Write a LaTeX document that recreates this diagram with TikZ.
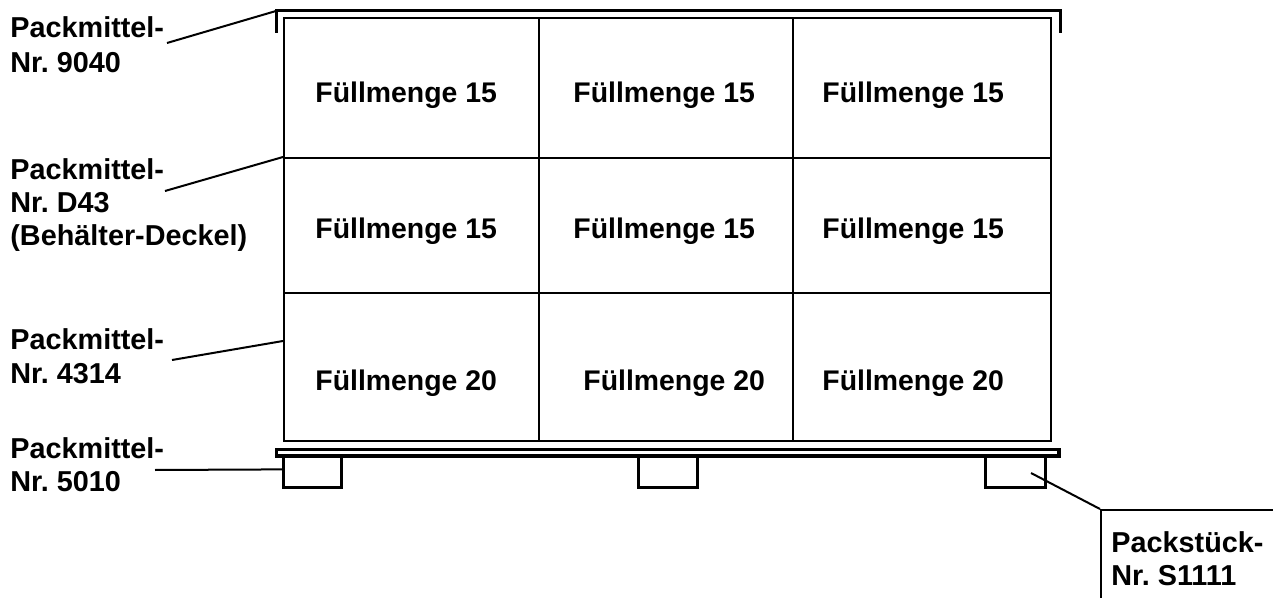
\documentclass[tikz,border=0pt]{standalone}
\usepackage{fontspec}
\setmainfont{Liberation Sans}
\frenchspacing
\begin{document}
\begin{tikzpicture}[x=0.5pt,y=-0.5pt,
  cell/.style={draw, line width=1.2pt, inner sep=0, anchor=north west},
  foot/.style={draw, line width=1.4pt, inner sep=0, anchor=north west, minimum height=18pt},
  fill text/.style={anchor=base west, inner sep=0, font=\fontsize{14.2}{17}\selectfont\bfseries},
  lab/.style={anchor=base west, inner sep=0, font=\fontsize{14.4}{17}\selectfont\bfseries},
  leader/.style={line width=1pt},
  bracket/.style={line width=1.5pt}]
\useasboundingbox (0,0) rectangle (1273,598);
\clip (0,0) rectangle (1273,598);

% grid of containers
\node[cell, minimum width=127.5pt, minimum height=70pt] (c11) at (283,17) {};
\node[cell, minimum width=127pt,   minimum height=70pt] (c12) at (538,17) {};
\node[cell, minimum width=129pt,   minimum height=70pt] (c13) at (792,17) {};
\node[cell, minimum width=127.5pt, minimum height=67.5pt] (c21) at (283,157) {};
\node[cell, minimum width=127pt,   minimum height=67.5pt] (c22) at (538,157) {};
\node[cell, minimum width=129pt,   minimum height=67.5pt] (c23) at (792,157) {};
\node[cell, minimum width=127.5pt, minimum height=74pt] (c31) at (283,292) {};
\node[cell, minimum width=127pt,   minimum height=74pt] (c32) at (538,292) {};
\node[cell, minimum width=129pt,   minimum height=74pt] (c33) at (792,292) {};

% fill texts
\node[fill text] (t11) at (315,103) {Füllmenge 15};
\node[fill text] (t12) at (573,103) {Füllmenge 15};
\node[fill text] (t13) at (822,103) {Füllmenge 15};
\node[fill text] (t21) at (315,239) {Füllmenge 15};
\node[fill text] (t22) at (573,239) {Füllmenge 15};
\node[fill text] (t23) at (822,239) {Füllmenge 15};
\node[fill text] (t31) at (315,390) {Füllmenge 20};
\node[fill text] (t32) at (583,390) {Füllmenge 20};
\node[fill text] (t33) at (822,390) {Füllmenge 20};

% cover (bracket)
\coordinate (brLb) at (276,33);
\coordinate (brL) at (276,11);
\coordinate (brR) at (1060,11);
\coordinate (brRb) at (1060,33);
\draw[bracket] (brLb) -- (brL) -- (brR) -- (brRb);

% pallet feet and deck
\node[foot, minimum width=29pt]   (f1) at (282,450) {};
\node[foot, minimum width=29.5pt] (f2) at (637,450) {};
\node[foot, minimum width=30pt]   (f3) at (984,450) {};
\node[draw, line width=1.6pt, fill=white, inner sep=0, anchor=north west,
      minimum width=391.4pt, minimum height=3.4pt] (deck) at (274.6,447.6) {};

% labels
\node[lab] (lab1) at (10,38) {\begin{tabular}[t]{@{}l@{}}Packmittel-\\[0.5pt]Nr. 9040\end{tabular}};
\node[lab] (lab2) at (10,180) {\begin{tabular}[t]{@{}l@{}}Packmittel-\\[-0.5pt]Nr. D43\\[-0.5pt](Behälter-Deckel)\end{tabular}};
\node[lab] (lab3) at (10,350) {\begin{tabular}[t]{@{}l@{}}Packmittel-\\Nr. 4314\end{tabular}};
\node[lab] (lab4) at (10,458) {\begin{tabular}[t]{@{}l@{}}Packmittel-\\Nr. 5010\end{tabular}};

% Packstück box
\node[draw, line width=1.2pt, inner sep=0, anchor=north west,
      minimum width=100pt, minimum height=50pt] (pbox) at (1100,509) {};
\node[lab] (lab5) at (1111,552) {\begin{tabular}[t]{@{}l@{}}Packstück-\\[-0.5pt]Nr. S1111\end{tabular}};

% leaders
\coordinate (s1) at (167,43);
\coordinate (s2) at (165,191);
\coordinate (s3) at (172,360);
\coordinate (s4) at (155,470);
\coordinate (s5) at (1031,473);
\coordinate (e3) at (283,341);
\draw[leader] (s1) -- (brL);
\draw[leader] (s2) -- (c21.north west);
\draw[leader] (s3) -- (e3);
\draw[leader] (s4) -- (f1.west);
\draw[leader] (s5) -- (pbox.north west);
\end{tikzpicture}
\end{document}
